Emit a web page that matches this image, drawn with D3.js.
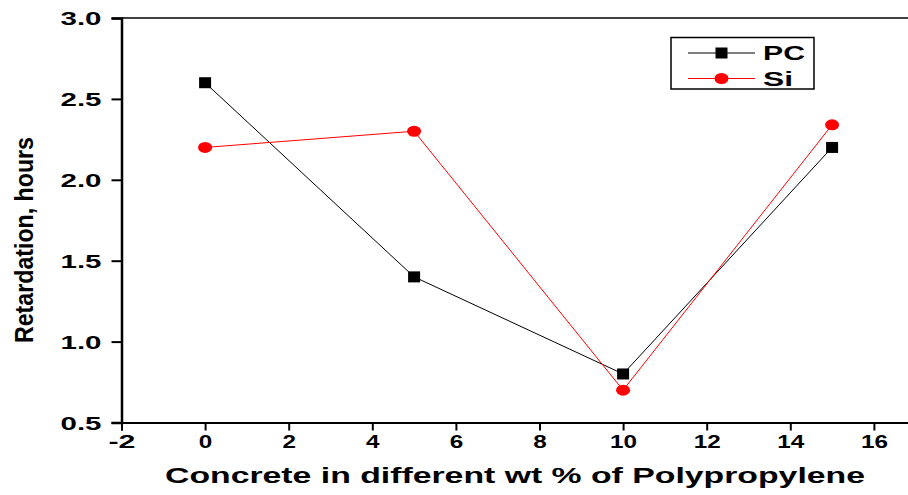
<!DOCTYPE html>
<html>
<head>
<meta charset="utf-8">
<script src="https://cdn.jsdelivr.net/npm/d3@7"></script>
<style>
  body { margin: 0; background: #fff; }
  text { font-family: "Liberation Sans", Arial, sans-serif; font-weight: bold; }
</style>
</head>
<body>
<svg id="chart" width="908" height="495"></svg>
<script>
const xValues = [0, 5, 10, 15];
const pcValues = [2.6, 1.4, 0.8, 2.2];
const siValues = [2.2, 2.3, 0.7, 2.34];
const xTicks = [-2, 0, 2, 4, 6, 8, 10, 12, 14, 16];
const yTicks = [0.5, 1.0, 1.5, 2.0, 2.5, 3.0];

const svg = d3.select("#chart");
const plotLeft = 121.5, plotTop = 18, plotBottom = 422.5;

const x = d3.scaleLinear().domain([-2, 17]).range([plotLeft, plotLeft + 19 * 41.8]);
const y = d3.scaleLinear().domain([0.5, 3.0]).range([plotBottom, plotTop]);

// top frame line
svg.append("line").attr("x1", plotLeft).attr("x2", 908).attr("y1", plotTop).attr("y2", plotTop)
  .attr("stroke", "#000").attr("stroke-width", 1.5);

const xAxis = svg.append("g")
  .attr("transform", `translate(0,${plotBottom})`)
  .call(d3.axisBottom(x).tickValues(xTicks).tickSize(8).tickPadding(4).tickFormat(d => String(d)));
xAxis.select(".domain").attr("stroke-width", 2);
xAxis.selectAll(".tick line").attr("stroke-width", 2);
xAxis.selectAll("text").style("font-size", "19px").attr("textLength", d => String(d).length * 13.5)
  .attr("lengthAdjust", "spacingAndGlyphs");

const yAxis = svg.append("g")
  .attr("transform", `translate(${plotLeft},0)`)
  .call(d3.axisLeft(y).tickValues(yTicks).tickSize(10).tickPadding(10).tickFormat(d3.format(".1f")));
yAxis.select(".domain").attr("stroke-width", 2.5);
yAxis.selectAll(".tick line").attr("stroke-width", 2);
yAxis.selectAll("text").style("font-size", "19px").attr("dy", "0.35em")
  .attr("textLength", 41).attr("lengthAdjust", "spacingAndGlyphs");

// titles
svg.append("text")
  .attr("x", 515).attr("y", 483)
  .attr("text-anchor", "middle")
  .style("font-size", "22px")
  .attr("textLength", 700).attr("lengthAdjust", "spacingAndGlyphs")
  .text("Concrete in different wt % of Polypropylene");

svg.append("text")
  .attr("transform", "translate(33,240) rotate(-90)")
  .attr("text-anchor", "middle")
  .style("font-size", "25px")
  .attr("textLength", 206).attr("lengthAdjust", "spacingAndGlyphs")
  .text("Retardation, hours");

const series = [
  { name: "PC", values: pcValues, color: "#000", shape: "square" },
  { name: "Si", values: siValues, color: "#ff0000", shape: "circle" }
];

const line = d3.line().x(d => x(d[0])).y(d => y(d[1]));

function drawMarker(sel, s, cx, cy) {
  if (s.shape === "square") {
    sel.append("rect").attr("x", cx - 6).attr("y", cy - 5.5).attr("width", 12).attr("height", 11)
      .attr("fill", s.color);
  } else {
    sel.append("ellipse").attr("cx", cx).attr("cy", cy).attr("rx", 7).attr("ry", 5.5)
      .attr("fill", s.color);
  }
}

series.forEach(s => {
  const pts = xValues.map((v, i) => [v, s.values[i]]);
  svg.append("path").datum(pts).attr("d", line)
    .attr("fill", "none").attr("stroke", s.color).attr("stroke-width", 1);
  const g = svg.append("g");
  pts.forEach(p => drawMarker(g, s, x(p[0]), y(p[1])));
});

// legend
const legend = svg.append("g");
legend.append("rect").attr("x", 671).attr("y", 37.5).attr("width", 143).attr("height", 51.5)
  .attr("fill", "none").attr("stroke", "#000").attr("stroke-width", 1.5);
series.forEach((s, i) => {
  const ly = 53 + i * 25.5;
  legend.append("line").attr("x1", 688).attr("x2", 755).attr("y1", ly).attr("y2", ly)
    .attr("stroke", s.color).attr("stroke-width", 1);
  drawMarker(legend, s, 721.5, ly);
  legend.append("text").attr("x", 763).attr("y", ly).attr("dy", "0.36em")
    .style("font-size", "20px")
    .attr("textLength", s.name === "PC" ? 42 : 30).attr("lengthAdjust", "spacingAndGlyphs")
    .text(s.name);
});
</script>
</body>
</html>
